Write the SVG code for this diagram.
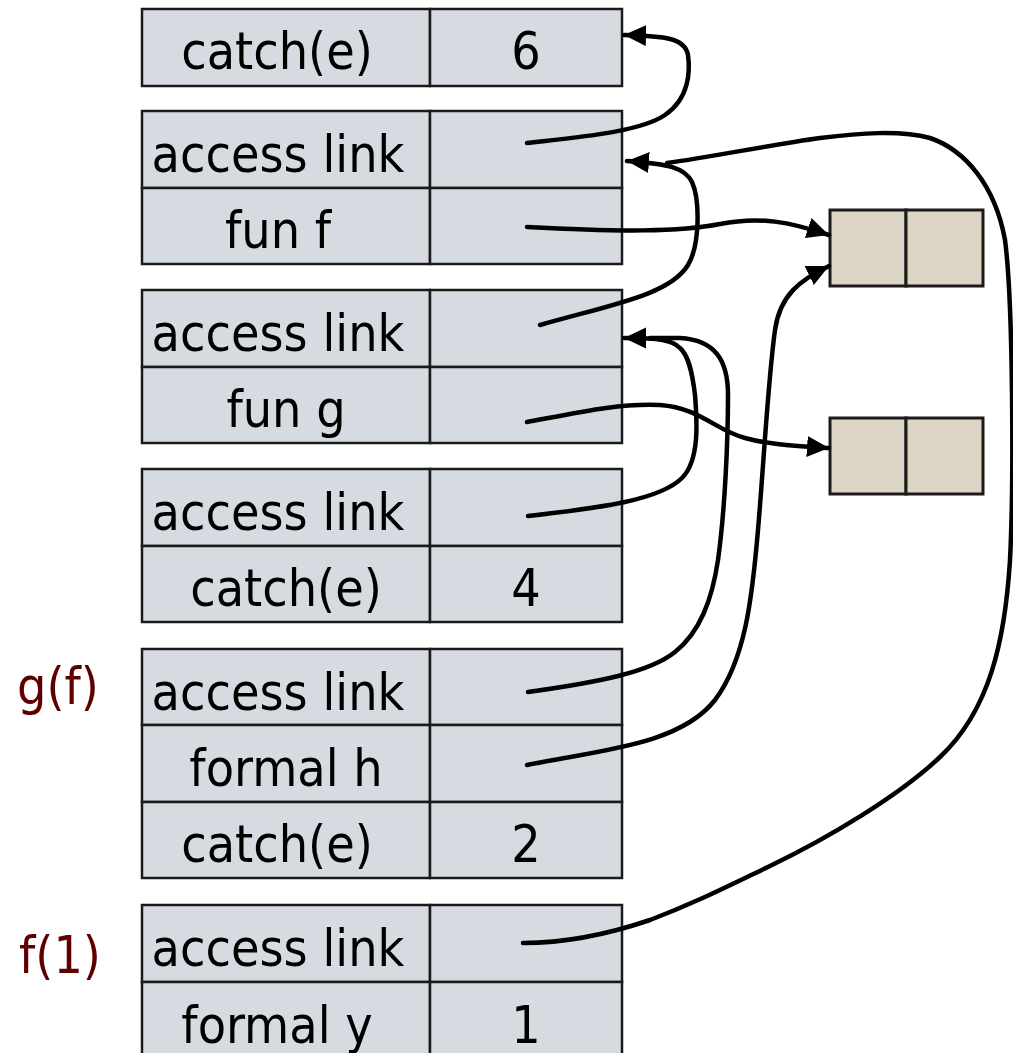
<svg xmlns="http://www.w3.org/2000/svg" width="1013" height="1053" viewBox="0 0 1013 1053">
<style>
.cell{fill:#d6dbe2;stroke:#1a1a1a;stroke-width:2.5}
.clo{fill:#ddd5c4;stroke:#1a1a1a;stroke-width:3}
.t{font-family:"DejaVu Sans Condensed","DejaVu Sans",sans-serif;font-stretch:condensed;font-size:51.5px;fill:#000;text-anchor:middle}
.lbl{font-family:"DejaVu Sans Condensed","DejaVu Sans",sans-serif;font-stretch:condensed;font-size:51.5px;fill:#5e0000;text-anchor:start}
.c{fill:none;stroke:#000;stroke-width:4.5;stroke-linecap:round}
</style>
<defs>
<marker id="ah" markerUnits="userSpaceOnUse" markerWidth="24" markerHeight="22" refX="22" refY="10.5" orient="auto" viewBox="0 0 24 22">
<path d="M0,0 L22,10.5 L0,21 z" fill="#000"/>
</marker>
</defs>
<rect width="1013" height="1053" fill="#fff"/>

<g id="frame1">
<rect class="cell" x="142" y="9" width="288" height="77"/>
<rect class="cell" x="430" y="9" width="192" height="77"/>
<text class="t" x="277" y="69">catch(e)</text>
<text class="t" x="526" y="69">6</text>
</g>

<g id="frame2">
<rect class="cell" x="142" y="111" width="288" height="77"/>
<rect class="cell" x="430" y="111" width="192" height="77"/>
<rect class="cell" x="142" y="188" width="288" height="76"/>
<rect class="cell" x="430" y="188" width="192" height="76"/>
<text class="t" x="278" y="172">access link</text>
<text class="t" x="278" y="248">fun f</text>
</g>

<g id="frame3">
<rect class="cell" x="142" y="290" width="288" height="77"/>
<rect class="cell" x="430" y="290" width="192" height="77"/>
<rect class="cell" x="142" y="367" width="288" height="76"/>
<rect class="cell" x="430" y="367" width="192" height="76"/>
<text class="t" x="278" y="351">access link</text>
<text class="t" x="286" y="427">fun g</text>
</g>

<g id="frame4">
<rect class="cell" x="142" y="469" width="288" height="77"/>
<rect class="cell" x="430" y="469" width="192" height="77"/>
<rect class="cell" x="142" y="546" width="288" height="76"/>
<rect class="cell" x="430" y="546" width="192" height="76"/>
<text class="t" x="278" y="530">access link</text>
<text class="t" x="286" y="606">catch(e)</text>
<text class="t" x="526" y="606">4</text>
</g>

<g id="frame5">
<rect class="cell" x="142" y="649" width="288" height="76"/>
<rect class="cell" x="430" y="649" width="192" height="76"/>
<rect class="cell" x="142" y="725" width="288" height="77"/>
<rect class="cell" x="430" y="725" width="192" height="77"/>
<rect class="cell" x="142" y="802" width="288" height="76"/>
<rect class="cell" x="430" y="802" width="192" height="76"/>
<text class="t" x="278" y="710">access link</text>
<text class="t" x="286" y="786">formal h</text>
<text class="t" x="277" y="862">catch(e)</text>
<text class="t" x="526" y="862">2</text>
<text class="lbl" x="17" y="704">g(f)</text>
</g>

<g id="frame6">
<rect class="cell" x="142" y="905" width="288" height="77"/>
<rect class="cell" x="430" y="905" width="192" height="77"/>
<rect class="cell" x="142" y="982" width="288" height="77"/>
<rect class="cell" x="430" y="982" width="192" height="77"/>
<text class="t" x="278" y="966">access link</text>
<text class="t" x="277" y="1043">formal y</text>
<text class="t" x="526" y="1043">1</text>
<text class="lbl" x="19" y="973">f(1)</text>
</g>

<g id="closure1">
<rect class="clo" x="830" y="210" width="76" height="76"/>
<rect class="clo" x="906" y="210" width="77" height="76"/>
</g>

<g id="closure2">
<rect class="clo" x="830" y="418" width="76" height="76"/>
<rect class="clo" x="906" y="418" width="77" height="76"/>
</g>

<g id="connectors">
<path class="c" marker-end="url(#ah)" d="M527,143 C580,137 640,132 665,115 C690,98 690,70 688,55 C685,38 665,36 624,35"/>
<path class="c" marker-end="url(#ah)" d="M540,325 C610,305 670,295 688,265 C700,245 700,200 692,182 C685,168 670,164 627,161"/>
<path class="c" d="M523,943 C560,943 600,937 650,920 C690,905 720,890 770,866 C830,837 900,795 940,757 C990,710 1005,640 1010,560 C1014,480 1013,300 1005,240 C995,185 965,150 930,138 C900,130 860,133 820,138 C770,145 710,157 667,163"/>
<path class="c" marker-end="url(#ah)" d="M527,227 C620,232 680,232 720,224 C760,216 790,222 829,235"/>
<path class="c" marker-end="url(#ah)" d="M527,422 C580,412 620,403 660,405 C700,408 715,430 745,438 C770,445 800,446 829,448"/>
<path class="c" marker-end="url(#ah)" d="M528,516 C600,508 660,500 682,478 C700,460 697,420 695,395 C692,370 688,355 680,348 C672,340 660,338 624,338"/>
<path class="c" d="M528,692 C600,682 650,672 675,652 C700,632 712,600 718,560 C725,510 728,440 728,395 C728,360 715,340 680,338 L650,338"/>
<path class="c" marker-end="url(#ah)" d="M527,765 C600,750 680,745 715,700 C745,660 752,600 758,530 C764,460 768,380 775,330 C780,295 800,280 829,266"/>
</g>
</svg>
